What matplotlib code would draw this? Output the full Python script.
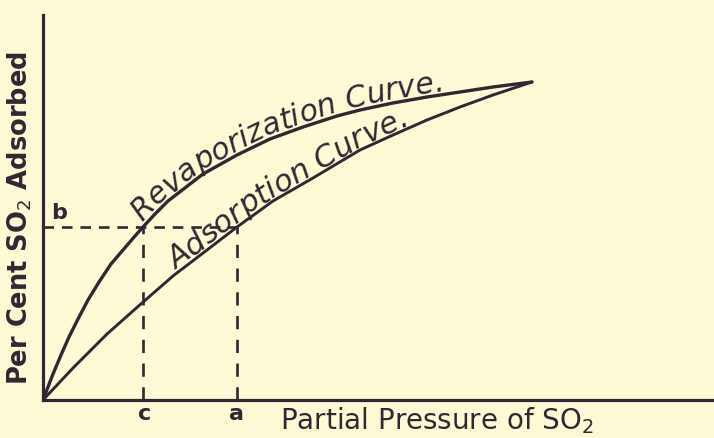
import numpy as np
import matplotlib
matplotlib.use("Agg")
import matplotlib.pyplot as plt
from matplotlib.font_manager import FontProperties

# curves (arbitrary units: pressure, per cent adsorbed)
revap_x = [0, 5, 10, 18, 26, 35, 45, 56, 68, 80, 92, 100, 112, 125, 160, 194, 227, 260,
           294, 317, 350, 384, 417, 450, 489]
revap_y = [0, 13, 26, 45, 63, 81, 100, 118, 136, 150, 164, 173, 186, 199, 226, 245, 261, 273,
           284, 290, 297, 303, 308, 313, 318]
adsorb_x = [0, 30, 64, 99, 130, 164, 194, 230, 270, 317, 350, 384, 417, 450, 489]
adsorb_y = [0, 32, 66, 97, 124, 150, 173, 199, 222, 250, 265, 280, 293, 305, 318]

# guide points
c_x = 100
a_x = 194
b_y = 173

ink = "#2f2833"
paper = "#fdfbd6"

fig = plt.figure(figsize=(7.14, 4.38), dpi=100, facecolor=paper)
# one data unit = one pixel in both directions
ax = fig.add_axes([43 / 714, 38 / 438, 671 / 714, 385 / 438])
ax.set_facecolor(paper)
ax.set_xlim(0, 671)
ax.set_ylim(0, 385)

ax.plot(revap_x, revap_y, color=ink, lw=2.4, solid_capstyle="round", solid_joinstyle="round")
ax.plot(adsorb_x, adsorb_y, color=ink, lw=2.1, solid_capstyle="round", solid_joinstyle="round")

ax.plot([0, a_x], [b_y, b_y], color=ink, lw=1.9, dashes=(4, 3))
ax.plot([c_x, c_x], [0, b_y], color=ink, lw=1.9, dashes=(5, 4))
ax.plot([a_x, a_x], [0, b_y], color=ink, lw=1.9, dashes=(5, 4))

for s in ["top", "right"]:
    ax.spines[s].set_visible(False)
for s in ["left", "bottom"]:
    ax.spines[s].set_linewidth(2.3)
    ax.spines[s].set_color(ink)
ax.set_xticks([])
ax.set_yticks([])

ax.text(8, b_y + 4, "b", fontsize=16, fontweight="bold", color=ink, va="bottom")
ax.text(c_x + 2, -4, "c", fontsize=16, fontweight="bold", color=ink, ha="center", va="top")
ax.text(a_x, -4, "a", fontsize=16, fontweight="bold", color=ink, ha="center", va="top")

renderer = fig.canvas.get_renderer()


def curved_label(xs, ys, text, x_start, x_end, offset, fs0=16):
    """write text letter by letter along a curve, baseline `offset` px above it"""
    xs = np.asarray(xs, float)
    ys = np.asarray(ys, float)
    seg = np.hypot(np.diff(xs), np.diff(ys))
    arc = np.concatenate([[0], np.cumsum(seg)])
    s0 = np.interp(x_start, xs, arc)
    s1 = np.interp(x_end, xs, arc)
    fp = FontProperties(family="DejaVu Sans", style="italic", size=fs0)
    full = renderer.get_text_width_height_descent(text, fp, ismath=False)[0]
    fs = fs0 * (s1 - s0) / full
    fp = FontProperties(family="DejaVu Sans", style="italic", size=fs)
    widths = [renderer.get_text_width_height_descent(text[:i], fp, ismath=False)[0] if i else 0
              for i in range(len(text) + 1)]
    for i, ch in enumerate(text):
        if ch == " ":
            continue
        s = s0 + (widths[i] + widths[i + 1]) / 2
        px, py = np.interp(s, arc, xs), np.interp(s, arc, ys)
        qx1, qy1 = np.interp(s - 10, arc, xs), np.interp(s - 10, arc, ys)
        qx2, qy2 = np.interp(s + 10, arc, xs), np.interp(s + 10, arc, ys)
        ang = np.arctan2(qy2 - qy1, qx2 - qx1)
        ax.text(px - offset * np.sin(ang), py + offset * np.cos(ang), ch,
                fontproperties=fp, color=ink, rotation=np.degrees(ang),
                rotation_mode="anchor", ha="center", va="baseline")


curved_label(revap_x, revap_y, "Revaporization Curve.", 102, 402, 4)
curved_label(adsorb_x, adsorb_y, "Adsorption Curve.", 135, 369, 3)

fig.text(437 / 714, 1 - 421 / 438, "Partial Pressure of SO$_2$", fontsize=20, color=ink,
         ha="center", va="center")
fig.text(20 / 714, 1 - 218 / 438, "Per Cent SO$_2$ Adsorbed", fontsize=18.5, color=ink,
         fontweight="bold", rotation=90, ha="center", va="center")

fig.savefig("out.png", dpi=100, facecolor=paper)
